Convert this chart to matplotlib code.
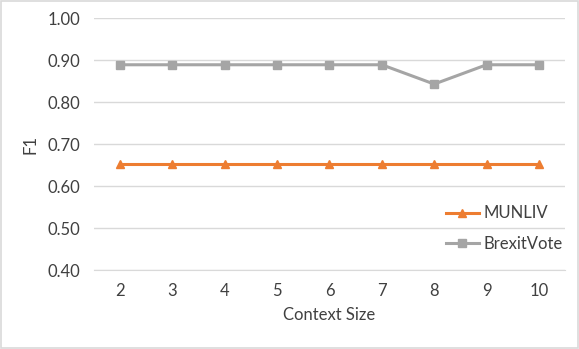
import matplotlib
matplotlib.use('Agg')
import matplotlib.pyplot as plt
from matplotlib.patches import Rectangle

# Data
context_size = [2, 3, 4, 5, 6, 7, 8, 9, 10]
munliv = [0.652, 0.652, 0.652, 0.652, 0.652, 0.652, 0.652, 0.652, 0.652]
brexit_vote = [0.889, 0.889, 0.889, 0.889, 0.889, 0.889, 0.843, 0.889, 0.889]
y_ticks = [0.40, 0.50, 0.60, 0.70, 0.80, 0.90, 1.00]

plt.rcParams['font.family'] = ['Lato', 'DejaVu Sans']

fig = plt.figure(figsize=(5.79, 3.49), dpi=100)
ax = fig.add_axes([0.162, 0.226, 0.814, 0.722])

# outer chart border
fig.patches.append(Rectangle((0.001, 0.002), 0.997, 0.995, transform=fig.transFigure,
                             fill=False, edgecolor='#D9D9D9', linewidth=1.2))

ax.plot(context_size, munliv, color='#ED7D31', linewidth=2.2, marker='^',
        markersize=6, label='MUNLIV', zorder=3)
ax.plot(context_size, brexit_vote, color='#A5A5A5', linewidth=2.2, marker='s',
        markersize=5.5, label='BrexitVote', zorder=3)

ax.set_xlim(1.5, 10.5)
ax.set_ylim(0.40, 1.00)
ax.set_yticks(y_ticks)
ax.set_yticklabels(['%.2f' % v for v in y_ticks])
ax.set_xticks(context_size)
ax.yaxis.grid(True, color='#D9D9D9', linewidth=1)
ax.set_axisbelow(True)
for s in ['top', 'right', 'left']:
    ax.spines[s].set_visible(False)
ax.spines['bottom'].set_color('#D9D9D9')
ax.tick_params(axis='both', length=0, labelsize=12, colors='#404040')
ax.tick_params(axis='y', pad=10)
ax.tick_params(axis='x', pad=9)

ax.set_xlabel('Context Size', fontsize=12, color='#404040', labelpad=6)
ax.set_ylabel('F1', fontsize=12, color='#404040', labelpad=6)

leg = ax.legend(loc='lower right', bbox_to_anchor=(1.01, 0.047), frameon=False,
                fontsize=12, handlelength=2.0, handletextpad=0.3,
                labelspacing=0.85, borderaxespad=0)
for t in leg.get_texts():
    t.set_color('#404040')

fig.savefig('out.png', dpi=100, facecolor='white')
